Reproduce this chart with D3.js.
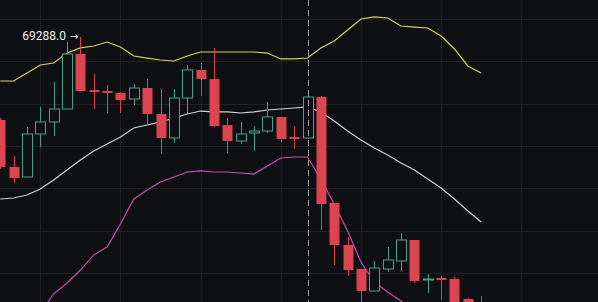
<!DOCTYPE html>
<html>
<head>
<meta charset="utf-8">
<script src="https://cdn.jsdelivr.net/npm/d3@7"></script>
<style>
  html, body { margin: 0; padding: 0; background: #0f1013; overflow: hidden; }
  svg { display: block; }
</style>
</head>
<body>
<div id="chart"></div>
<script>
// candles (oldest -> newest), price in USDT
let open  = [68307, 67752, 67634, 68142, 68284, 68437, 69087, 68661, 68650, 68626,
             68555, 68685, 68378, 68095, 68567, 68898, 68791, 68248, 68059, 68154,
             68177, 68343, 68106, 68095, 68579, 67327, 66831, 66547, 66287, 66547,
             66642, 66890, 66417, 66441, 66429, 66193, 66134]
let high  = [68331, 67882, 68224, 68461, 68756, 69228, 69288, 68850, 68720, 68638,
             68732, 68791, 68673, 68673, 68957, 68980, 69158, 68331, 68284, 68236,
             68520, 68343, 68236, 68591, 68591, 67327, 66925, 66547, 66642, 66807,
             66972, 66890, 66488, 66465, 66453, 66205, 66229]
let low   = [67730, 67563, 67634, 67988, 68118, 68437, 68650, 68437, 68390, 68390,
             68484, 68236, 67906, 68035, 68390, 68591, 68224, 67917, 68024, 67941,
             68154, 68047, 67965, 68083, 67008, 66594, 66465, 66158, 66287, 66512,
             66524, 66382, 66264, 66181, 66063, 66039, 66039]
let close = [67752, 67622, 68142, 68284, 68437, 69087, 68650, 68638, 68626, 68543,
             68685, 68378, 68095, 68567, 68898, 68791, 68236, 68059, 68142, 68177,
             68343, 68083, 68083, 68579, 67315, 66831, 66535, 66287, 66559, 66654,
             66890, 66406, 66429, 66417, 66122, 66110, 66087]

// bollinger bands
let bollUp  = [68768, 68768, 68862, 68957, 68980, 69098, 69158, 69181, 69228, 69169,
               69063, 69039, 69016, 69004, 69063, 69110, 69110, 69110, 69110, 69110,
               69098, 69028, 69028, 69039, 69158, 69240, 69370, 69500, 69524, 69512,
               69417, 69405, 69394, 69299, 69146, 68945, 68862]
let bollMid = [67374, 67386, 67421, 67492, 67598, 67717, 67835, 67941, 68024, 68106,
               68213, 68248, 68284, 68331, 68378, 68413, 68402, 68402, 68390, 68402,
               68425, 68437, 68449, 68461, 68402, 68295, 68177, 68071, 67976, 67894,
               67799, 67717, 67610, 67504, 67374, 67232, 67102]
let bollDn  = [65980, 66004, 65980, 66028, 66252, 66382, 66535, 66713, 66807, 67079,
               67374, 67480, 67575, 67634, 67693, 67705, 67693, 67693, 67681, 67669,
               67764, 67858, 67870, 67870, 67610, 67315, 66996, 66630, 66394, 66276,
               66169, 66028, 65827, 65709, 65602, 65520, 65342]

let maxLabel = '69288.0'
let maxIndex = 6
let hoverIndex = 23

let width = 598
	, height = 302
	, bodyWidth = 10
	, colors = {
		bg: '#0f1013'
		, grid: '#1f2126'
		, up: '#45a687'
		, down: '#dc4550'
		, bollUp: '#d8d35a'
		, bollMid: '#d2d2d2'
		, bollDn: '#c94cae'
	}

let x = d3.scaleLinear()
	.domain([0, 36])
	.range([0.2, 481.2])

let y = d3.scaleLinear()
	.domain([66000, 70000])
	.range([315.33, -23.33])

let svg = d3.select('#chart')
	.append('svg')
	  .attr('width', width)
	  .attr('height', height)
	  .attr('viewBox', '0 0 ' + width + ' ' + height)

svg.append('rect')
	.attr('width', width)
	.attr('height', height)
	.attr('fill', colors.bg)

// grid: one vertical line every 6 candles, horizontal on price ticks
let grid = svg.append('g')
	.attr('stroke', colors.grid)
	.attr('stroke-width', 1)

grid.selectAll('.vgrid')
	.data(d3.range(3, 45, 6))
	.join('line')
	  .attr('class', 'vgrid')
	  .attr('x1', d => Math.round(x(d)) + 0.5)
	  .attr('x2', d => Math.round(x(d)) + 0.5)
	  .attr('y1', 0)
	  .attr('y2', height)

grid.selectAll('.hgrid')
	.data(y.ticks(8))
	.join('line')
	  .attr('class', 'hgrid')
	  .attr('x1', 0)
	  .attr('x2', width)
	  .attr('y1', d => Math.round(y(d)) + 0.5)
	  .attr('y2', d => Math.round(y(d)) + 0.5)

// bands
let line = d3.line()
	.x((d, i) => x(i))
	.y(d => y(d))

let bands = svg.append('g')
	.attr('fill', 'none')
	.attr('stroke-width', 1.2)

bands.append('path')
	.attr('d', line(bollUp))
	.attr('stroke', colors.bollUp)

bands.append('path')
	.attr('d', line(bollMid))
	.attr('stroke', colors.bollMid)

bands.append('path')
	.attr('d', line(bollDn))
	.attr('stroke', colors.bollDn)

// candles
let candles = d3.range(open.length).map(i => ({
	i: i
	, o: open[i]
	, h: high[i]
	, l: low[i]
	, c: close[i]
	, up: close[i] >= open[i]
}))

let candle = svg.append('g')
	.selectAll('.candle')
	.data(candles)
	.join('g')
	  .attr('class', 'candle')

candle.append('line')
	.attr('x1', d => Math.round(x(d.i)) + 0.5)
	.attr('x2', d => Math.round(x(d.i)) + 0.5)
	.attr('y1', d => y(d.h))
	.attr('y2', d => y(d.l))
	.attr('stroke', d => d.up ? colors.up : colors.down)
	.attr('stroke-width', 1)

candle.append('rect')
	.attr('x', d => Math.round(x(d.i)) - bodyWidth / 2 + 0.5)
	.attr('y', d => y(Math.max(d.o, d.c)))
	.attr('width', bodyWidth)
	.attr('height', d => Math.max(1, y(Math.min(d.o, d.c)) - y(Math.max(d.o, d.c))))
	.attr('fill', d => d.up ? colors.bg : colors.down)
	.attr('stroke', d => d.up ? colors.up : 'none')
	.attr('stroke-width', 1)

// crosshair on hovered candle
svg.append('line')
	.attr('x1', Math.round(x(hoverIndex)) + 0.5)
	.attr('x2', Math.round(x(hoverIndex)) + 0.5)
	.attr('y1', 0)
	.attr('y2', height)
	.attr('stroke', '#a0a0a0')
	.attr('stroke-width', 1)
	.attr('stroke-dasharray', '6,4')

// highest price marker
let marker = svg.append('text')
	.attr('x', x(maxIndex) - 2)
	.attr('y', y(high[maxIndex]) - 1)
	.attr('dy', '0.35em')
	.attr('text-anchor', 'end')
	.attr('fill', '#f0f0f0')
	.style('font-family', 'Roboto, "Noto Sans", sans-serif')
	.style('font-size', '12px')

marker.append('tspan').text(maxLabel)
marker.append('tspan')
	.attr('dx', 4)
	.style('font-family', '"DejaVu Sans", sans-serif')
	.style('font-size', '10px')
	.text('\u2192')
</script>
</body>
</html>
